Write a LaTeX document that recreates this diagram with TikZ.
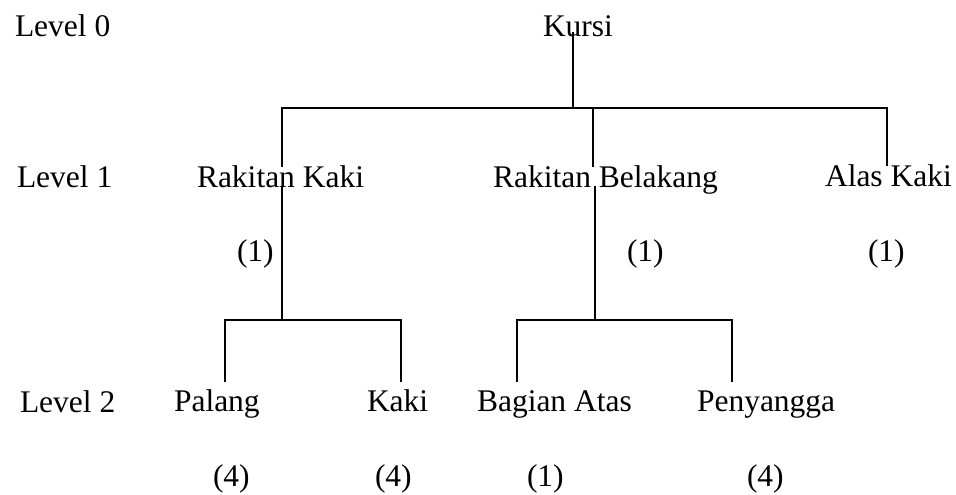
\documentclass[tikz,border=0pt]{standalone}
\usepackage{fontspec}
\setmainfont{Liberation Serif}
\begin{document}
\begin{tikzpicture}[x=1pt,y=-1pt,
  lbl/.style={anchor=base west,inner sep=0pt,outer sep=0pt,
    font=\fontsize{31.5}{36}\selectfont},
  wire/.style={line width=2.9pt,line join=miter,line cap=rect}]
\useasboundingbox[fill=white] (0,0) rectangle (956,495);

% level captions
\node[lbl] (lv0) at (15,37) {Level 0};
\node[lbl] (lv1) at (17,187) {Level 1};
\node[lbl] (lv2) at (20,412) {Level 2};

% level 0
\node[lbl] (kursi) at (543,37) {Kursi};

% level 1
\node[lbl] (rk) at (197,187) {Rakitan Kaki};
\node[lbl] (rb) at (493,187) {Rakitan Belakang};
\node[lbl] (ak) at (825,186) {Alas Kaki};
\node[lbl] (nrk) at (237,261) {(1)};
\node[lbl] (nrb) at (627,261) {(1)};
\node[lbl] (nak) at (868,261) {(1)};

% level 2
\node[lbl] (pl) at (174,411) {Palang};
\node[lbl] (kk) at (367,411) {Kaki};
\node[lbl] (ba) at (477,411) {Bagian Atas};
\node[lbl] (py) at (697,411) {Penyangga};
\node[lbl] (npl) at (213,486) {(4)};
\node[lbl] (nkk) at (375,486) {(4)};
\node[lbl] (nba) at (527,486) {(1)};
\node[lbl] (npy) at (747,486) {(4)};

% junction points of the tree
\coordinate (j0) at (573,108);
\coordinate (d1) at (282,108);
\coordinate (d2) at (593,108);
\coordinate (d3) at (887,108);
\coordinate (j1) at (282,320);
\coordinate (j2) at (595,320);
\coordinate (e1) at (225,381);
\coordinate (e2) at (401,381);
\coordinate (e3) at (517,381);
\coordinate (e4) at (732,381);

% Kursi to its three assemblies
\draw[wire] (j0 |- kursi.base) ++(0,-4) -- (j0);
\draw[wire] (rk.north -| d1) -- (d1) -- (d3) -- (ak.north -| d3);
\draw[wire] (d2) -- (rb.north -| d2);

% Rakitan Kaki to its parts
\draw[wire] (rk.base -| j1) -- (j1);
\draw[wire] (e1) |- (j1) -| (e2);

% Rakitan Belakang to its parts
\draw[wire] (rb.base -| j2) -- (j2);
\draw[wire] (e3) |- (j2) -| (e4);
\end{tikzpicture}
\end{document}
